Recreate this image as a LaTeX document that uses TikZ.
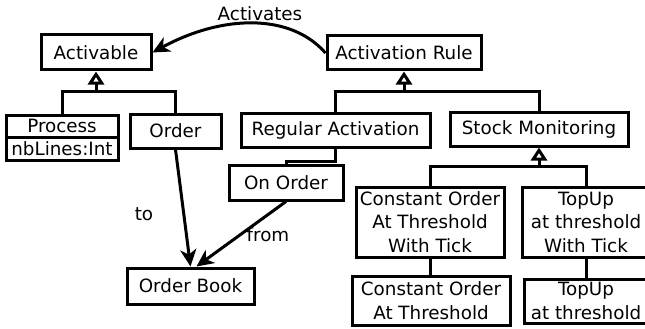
\documentclass[tikz,border=0pt]{standalone}
\usepackage{fontspec}
\setmainfont{DejaVu Sans}
\usetikzlibrary{arrows.meta,calc}
\begin{document}
\begin{tikzpicture}[x=1pt,y=-1pt,
  every node/.style={font=\fontsize{18.3}{23.5}\selectfont, text=black},
  umlbox/.style={draw, line width=3pt, inner sep=0pt, align=center, fill=white},
  link/.style={line width=3pt},
  gen/.style={link, -{Triangle[open, length=13pt, width=16pt]}},
  assoc/.style={link, -{Stealth[length=17pt, width=16pt, inset=5pt]}},
  lbl/.style={inner sep=0pt}
]
\useasboundingbox (0,0) rectangle (645,329);
\clip (0,0) rectangle (645,329);

% classes
\node[umlbox, minimum width=110pt, minimum height=35pt] (act) at (96,52.5) {Activable};
\node[umlbox, minimum width=154pt, minimum height=34pt] (rule) at (404,53) {Activation Rule};
\node[umlbox, minimum width=112pt, minimum height=22pt] (proc) at (62,126) {Process};
\node[umlbox, minimum width=112pt, minimum height=23pt] (attr) at (62,148.5) {nbLines:Int};
\node[umlbox, minimum width=91pt, minimum height=34pt] (order) at (175.5,131) {Order};
\node[umlbox, minimum width=189pt, minimum height=34pt] (regact) at (335.5,130) {Regular Activation};
\node[umlbox, minimum width=178pt, minimum height=34pt] (stock) at (539,129) {Stock Monitoring};
\node[umlbox, minimum width=114pt, minimum height=35pt] (onorder) at (286,182.5) {On Order};
\node[umlbox, minimum width=148pt, minimum height=70pt] (cwt) at (430,222) {Constant Order\\At Threshold\\With Tick};
\node[umlbox, minimum width=128pt, minimum height=70pt] (twt) at (586,222) {TopUp\\at threshold\\With Tick};
\node[umlbox, minimum width=158pt, minimum height=49pt] (cat) at (431,300.5) {Constant Order\\At Threshold};
\node[umlbox, minimum width=124pt, minimum height=44pt] (tat) at (586,301) {TopUp\\at threshold};
\node[umlbox, minimum width=127pt, minimum height=36pt] (ob) at (190.5,286) {Order Book};

% generalisation junctions
\coordinate (j1) at (96,91);
\coordinate (j2) at (404,91);
\coordinate (j3) at (539,166);

\draw[link] (proc.north) |- (j1) -| (order.north);
\draw[gen] (j1) -- (act.south);
\draw[link] (regact.north) |- (j2) -| (stock.north);
\draw[gen] (j2) -- (rule.south);
\draw[link] (cwt.north) |- (j3) -| (twt.north);
\draw[gen] (j3) -- (stock.south);

% plain links
\draw[link] (regact.south) -- ++(0,13) -| (onorder.north);
\draw[link] (cwt.south) -- (cwt.south |- cat.north);
\draw[link] (twt.south) -- (tat.north);

% associations
\draw[assoc] (order.south) -- (ob.north);
\draw[assoc] (onorder.south) -- ([xshift=6pt]ob.north);
\draw[assoc] (rule.west) .. controls +(-35,-40) and +(70,-38) .. (act.east);

% labels
\node[lbl] (lblact) at (260,14) {Activates};
\node[lbl] (lblto) at (144,214) {to};
\node[lbl] (lblfrom) at (268,235) {from};
\end{tikzpicture}
\end{document}
